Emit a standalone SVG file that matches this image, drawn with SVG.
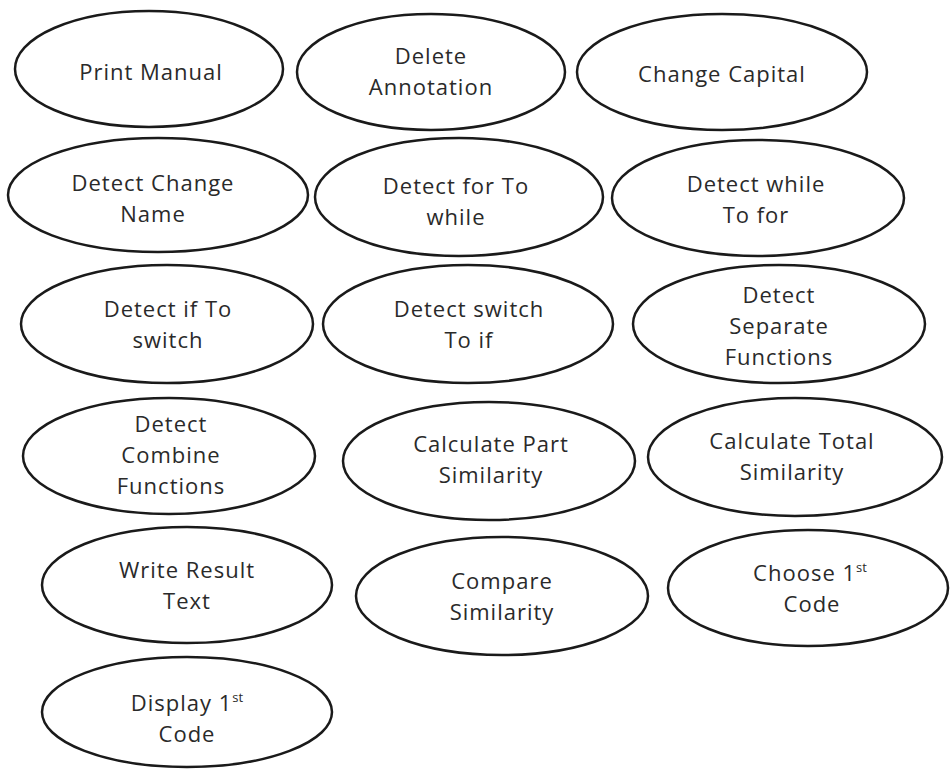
<svg xmlns="http://www.w3.org/2000/svg" width="950" height="769" viewBox="0 0 950 769">
<style>
ellipse{fill:#fff;stroke:#1a1a1a;stroke-width:2.5}
text{font-family:"Open Sans","Noto Sans","Liberation Sans",sans-serif;font-size:22px;letter-spacing:1px;fill:#2a2a2a;text-anchor:middle}
.sup{font-size:13px;letter-spacing:0}
</style>
<rect width="950" height="769" fill="#fff"/>
<g id="connectors"></g>
<g id="n1"><ellipse cx="149" cy="69" rx="134" ry="58"/><text x="151" y="80">Print Manual</text></g>
<g id="n2"><ellipse cx="431" cy="72" rx="134" ry="58"/><text x="431" y="64">Delete</text><text x="431" y="95">Annotation</text></g>
<g id="n3"><ellipse cx="722" cy="72" rx="145" ry="58"/><text x="722" y="82">Change Capital</text></g>
<g id="n4"><ellipse cx="158" cy="195" rx="150" ry="57"/><text x="153" y="191">Detect Change</text><text x="153" y="222">Name</text></g>
<g id="n5"><ellipse cx="459" cy="197" rx="144" ry="59"/><text x="456" y="194">Detect for To</text><text x="456" y="225">while</text></g>
<g id="n6"><ellipse cx="758" cy="198" rx="146" ry="58"/><text x="756" y="192">Detect while</text><text x="756" y="223">To for</text></g>
<g id="n7"><ellipse cx="167" cy="324" rx="146" ry="59"/><text x="168" y="317">Detect if To</text><text x="168" y="348">switch</text></g>
<g id="n8"><ellipse cx="468" cy="324" rx="145" ry="59"/><text x="469" y="317">Detect switch</text><text x="469" y="348">To if</text></g>
<g id="n9"><ellipse cx="779" cy="324" rx="146" ry="59"/><text x="779" y="303">Detect</text><text x="779" y="334">Separate</text><text x="779" y="365">Functions</text></g>
<g id="n10"><ellipse cx="169" cy="456" rx="146" ry="58"/><text x="171" y="432">Detect</text><text x="171" y="463">Combine</text><text x="171" y="494">Functions</text></g>
<g id="n11"><ellipse cx="489" cy="461" rx="146" ry="59"/><text x="491" y="452">Calculate Part</text><text x="491" y="483">Similarity</text></g>
<g id="n12"><ellipse cx="795" cy="457" rx="147" ry="59"/><text x="792" y="449">Calculate Total</text><text x="792" y="480">Similarity</text></g>
<g id="n13"><ellipse cx="187" cy="585" rx="145" ry="58"/><text x="187" y="578">Write Result</text><text x="187" y="609">Text</text></g>
<g id="n14"><ellipse cx="502" cy="596" rx="146" ry="59"/><text x="502" y="589">Compare</text><text x="502" y="620">Similarity</text></g>
<g id="n15"><ellipse cx="808" cy="588" rx="140" ry="58"/><text x="810" y="581">Choose 1<tspan class="sup" dy="-9">st</tspan></text><text x="812" y="612">Code</text></g>
<g id="n16"><ellipse cx="187" cy="712" rx="145" ry="55"/><text x="187" y="711">Display 1<tspan class="sup" dy="-9">st</tspan></text><text x="187" y="742">Code</text></g>
</svg>
